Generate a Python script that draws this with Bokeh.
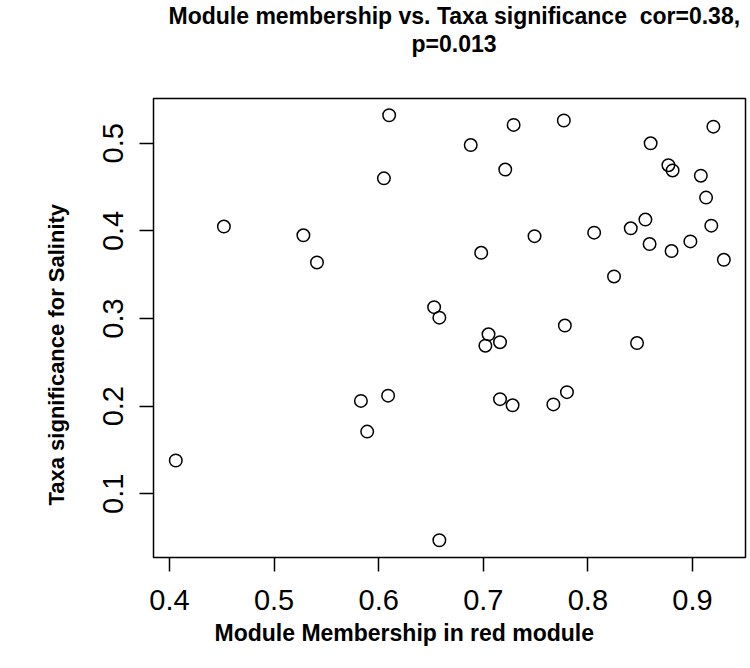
from bokeh.plotting import figure
from bokeh.models import FixedTicker, Range1d, Title
from bokeh.embed import file_html
from bokeh.resources import INLINE

# Module membership (x) and taxa significance for salinity (y), one entry per taxon
module_membership = [0.610, 0.605, 0.452, 0.528, 0.541, 0.653, 0.658, 0.729, 0.777, 0.688,
                     0.721, 0.920, 0.860, 0.877, 0.881, 0.908, 0.913, 0.855, 0.841, 0.918,
                     0.749, 0.806, 0.859, 0.880, 0.898, 0.698, 0.930, 0.825, 0.583, 0.609,
                     0.589, 0.406, 0.658, 0.705, 0.702, 0.716, 0.778, 0.847, 0.716, 0.728,
                     0.767, 0.780]
taxa_significance = [0.532, 0.460, 0.405, 0.395, 0.364, 0.313, 0.301, 0.521, 0.526, 0.498,
                     0.470, 0.519, 0.500, 0.475, 0.469, 0.463, 0.438, 0.413, 0.403, 0.406,
                     0.394, 0.398, 0.385, 0.377, 0.388, 0.375, 0.367, 0.348, 0.206, 0.212,
                     0.171, 0.138, 0.047, 0.282, 0.269, 0.273, 0.292, 0.272, 0.208, 0.201,
                     0.202, 0.216]
x_ticks = [0.4, 0.5, 0.6, 0.7, 0.8, 0.9]
y_ticks = [0.1, 0.2, 0.3, 0.4, 0.5]

title_lines = ["Module membership vs. Taxa significance \u00a0cor=0.38,", "p=0.013"]
x_label = "Module Membership in red module"
y_label = "Taxa significance for Salinity"

FONT = "Liberation Sans"

p = figure(width=750, height=668, output_backend="svg", toolbar_location=None,
           title=None,
           x_range=Range1d(0.3847, 0.9507), y_range=Range1d(0.0273, 0.5511),
           min_border_left=153, min_border_right=5, min_border_top=96,
           min_border_bottom=111)

p.grid.visible = False
p.background_fill_color = "white"
p.border_fill_color = "white"
p.outline_line_color = "black"
p.outline_line_width = 1.5
p.outline_line_alpha = 1.0

for ax, ticks in ((p.xaxis[0], x_ticks), (p.yaxis[0], y_ticks)):
    ax.ticker = FixedTicker(ticks=ticks)
    ax.axis_line_color = None
    ax.major_tick_in = 0
    ax.major_tick_out = 14
    ax.major_tick_line_color = "black"
    ax.major_tick_line_width = 1.5
    ax.minor_tick_line_color = None
    ax.major_label_text_font = FONT
    ax.major_label_text_font_size = "29px"
    ax.major_label_text_color = "black"

p.xaxis.major_label_standoff = 18
p.yaxis.major_label_orientation = "vertical"
p.yaxis.major_label_standoff = 16


def side_title(text, side, standoff, offset, size="23px"):
    # left-anchored title; offset is measured from the frame's start edge
    p.add_layout(Title(text=text, align="left", offset=offset, standoff=standoff,
                       text_font=FONT, text_font_size=size, text_font_style="bold",
                       text_color="black"), side)


# gap between the frame and the title block (first added sits closest to the frame)
side_title("\u00a0", "above", 39, 0, size="1px")
# two title lines, tightly stacked
side_title(title_lines[1], "above", 0, 258)
side_title(title_lines[0], "above", 0, 15)

# axis titles
side_title(x_label, "below", 10, 61)
side_title(y_label, "left", 64, 52, size="22px")

p.scatter(module_membership, taxa_significance, marker="circle", size=12.5,
          fill_color=None, line_color="black", line_width=1.5)

open("out.html", "w").write(file_html(p, INLINE))
